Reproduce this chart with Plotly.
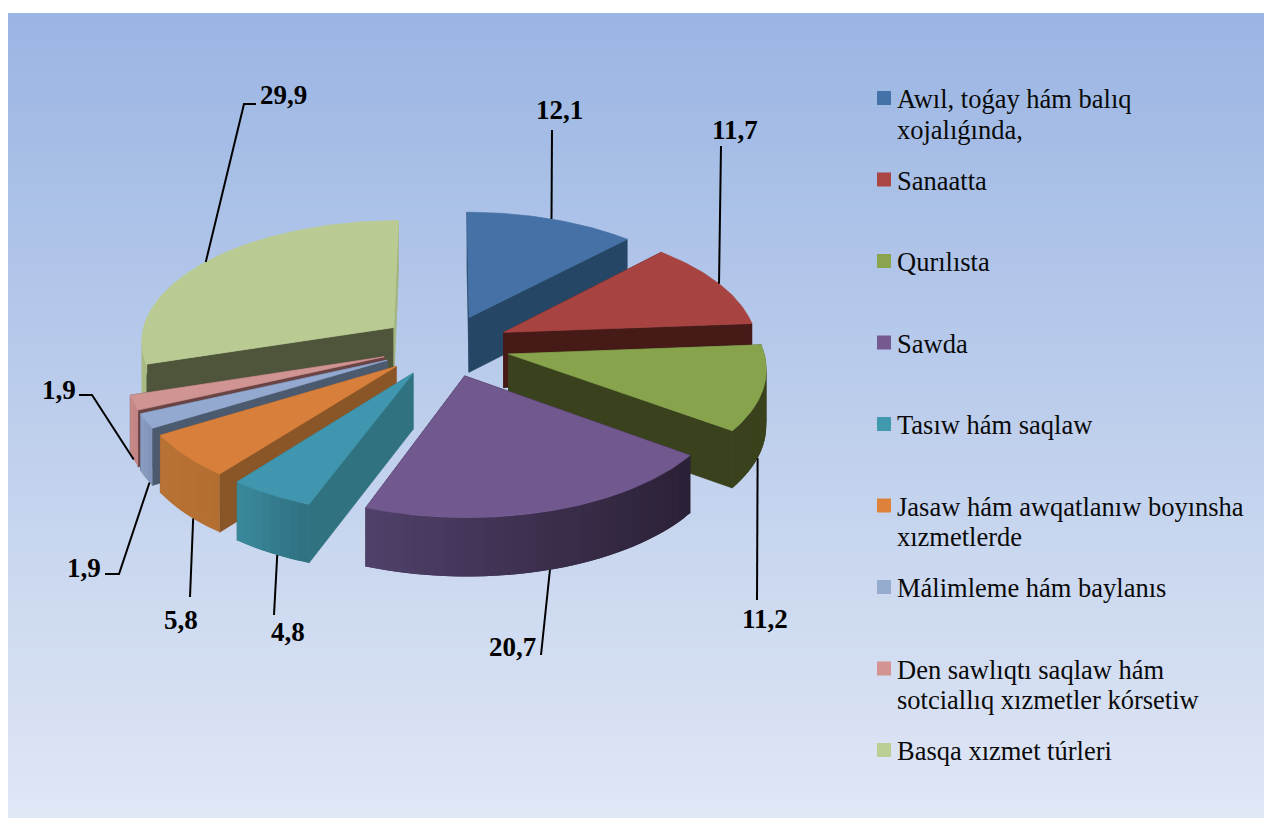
import math
import plotly.graph_objects as go

# ---- data ----
categories = [
    "Awıl, toǵay hám balıq\nxojalıǵında,",
    "Sanaatta",
    "Qurılısta",
    "Sawda",
    "Tasıw hám saqlaw",
    "Jasaw hám awqatlanıw boyınsha\nxızmetlerde",
    "Málimleme hám baylanıs",
    "Den sawlıqtı saqlaw hám\nsotciallıq xızmetler kórsetiw",
    "Basqa xızmet túrleri",
]
values = [12.1, 11.7, 11.2, 20.7, 4.8, 5.8, 1.9, 1.9, 29.9]
value_labels = ["12,1", "11,7", "11,2", "20,7", "4,8", "5,8", "1,9", "1,9", "29,9"]

# ---- styles ----
top_colors = ["#4571a6", "#a74442", "#87a44d", "#71588e", "#4096ae", "#d8803b", "#93a9cf", "#d09492", "#b9cb92"]
face_colors = ["#264666", "#451a17", "#39421c", "#2d2238", "#30727f", "#8a5628", "#4c5a70", "#6a4445", "#4f553a"]
end_face_colors = ["#264666", "#451a17", "#39421c", "#2d2238", "#30727f", "#8a5628", "#4c5a70", "#6a4445", "#a3b57f"]
wall_left = ["#264666", "#451a17", "#39421c", "#50406a", "#3a8a9c", "#b87235", "#8a9dc2", "#c98a88", "#a9bb84"]
wall_right = ["#264666", "#451a17", "#39421c", "#2b2136", "#2f6f80", "#b36e31", "#7f93b8", "#c08482", "#a9bb84"]
legend_colors = ["#4472a8", "#aa4644", "#8ba54f", "#75598f", "#4099ad", "#de823b", "#96accf", "#d29392", "#bbcf94"]

# ---- layout geometry (pixel-valued axes) ----
CX, CY = 445.5, 345.5
RX, RY = 254, 121
PERSP = 0.10
PULL = 0.256
DEPTH = 55.5
# per label: bent leader point(s), then label centre
leader_via = [[(552, 130)], [(721, 146)], [(757, 600)], [(541, 655)], [(274, 615)],
              [(190, 597)], [(119, 574), (105, 574)], [(92, 395), (79, 395)], [(244, 104), (256, 104)]]
label_pos = [(559, 110), (735, 130), (765, 619), (512, 647), (288, 632),
             (181, 620), (84, 568), (59, 390), (283, 95)]
leader_from_bottom = [False, False, True, True, True, True, True, True, False]
leader_shift_deg = [0, 0, 6, 0, -1.5, -2.5, -2, 0, 0]


def proj(X, Y, down=0.0):
    s = 1 / (1 + PERSP * Y)
    return CX + RX * X * s, CY - RY * Y * s + down * DEPTH * (1 - 0.05 * Y)


def hex2rgb(h):
    return tuple(int(h[i:i + 2], 16) for i in (1, 3, 5))


def mix(a, b, t):
    ca, cb = hex2rgb(a), hex2rgb(b)
    return "rgb(%d,%d,%d)" % tuple(round(ca[i] + (cb[i] - ca[i]) * t) for i in range(3))


fig = go.Figure()


def poly(pts, color, lw=0.7):
    fig.add_trace(go.Scatter(
        x=[p[0] for p in pts] + [pts[0][0]], y=[p[1] for p in pts] + [pts[0][1]],
        mode="lines", fill="toself", fillcolor=color,
        line=dict(color=color, width=lw), hoverinfo="skip", showlegend=False))


total = sum(values)
slices = []
cum = 0.0
for i, v in enumerate(values):
    a0 = cum / total * 2 * math.pi
    cum += v
    a1 = cum / total * 2 * math.pi
    m = (a0 + a1) / 2
    ax, ay = PULL * math.sin(m), PULL * math.cos(m)
    slices.append((i, a0, a1, m, ax, ay))

anchors = {}
for i, a0, a1, m, ax, ay in sorted(slices, key=lambda t: proj(t[4], t[5])[1]):
    pt = lambda a, d=0.0: proj(ax + math.sin(a), ay + math.cos(a), d)
    apex = proj(ax, ay)
    apex_b = proj(ax, ay, 1)
    # radial faces
    poly([apex, pt(a0), pt(a0, 1), apex_b], face_colors[i])
    poly([apex, pt(a1), pt(a1, 1), apex_b], end_face_colors[i])
    # outer wall (front-facing part only), shaded by screen position, each strip overlapping the next
    w0, w1 = max(a0, math.radians(85)), min(a1, math.radians(275))
    if w1 > w0:
        n = max(2, int(math.degrees(w1 - w0) / 2))
        angs = [w0 + (w1 - w0) * k / n for k in range(n + 1)]
        xs = [pt(a)[0] for a in angs]
        lo, hi = min(xs), max(xs)
        for k in range(n):
            t = ((xs[k] + xs[k + 1]) / 2 - lo) / (hi - lo)
            end = min(k + 2, n)
            arc_k = angs[k:end + 1]
            poly([pt(a) for a in arc_k] + [pt(a, 1) for a in reversed(arc_k)],
                 mix(wall_left[i], wall_right[i], t), lw=0)
    # top surface
    n2 = max(4, int(math.degrees(a1 - a0)))
    arc = [pt(a0 + (a1 - a0) * k / n2) for k in range(n2 + 1)]
    poly([apex] + arc, top_colors[i])
    anchors[i] = pt(m + math.radians(leader_shift_deg[i]), 1 if leader_from_bottom[i] else 0)

# leader lines
for i in range(len(values)):
    pts = [anchors[i]] + leader_via[i]
    fig.add_trace(go.Scatter(x=[p[0] for p in pts], y=[p[1] for p in pts], mode="lines",
                             line=dict(color="#000000", width=2), hoverinfo="skip", showlegend=False))

annotations = []
for (x, y), t in zip(label_pos, value_labels):
    annotations.append(dict(x=x, y=y, text="<b>%s</b>" % t, showarrow=False, xanchor="center", yanchor="middle",
                            font=dict(family="Liberation Serif", size=27, color="#000000")))

# legend
LEG_TOP, LEG_STEP, LINE_STEP = 98, 81.5, 30.5
fig.add_trace(go.Scatter(
    x=[884] * len(categories), y=[LEG_TOP + LEG_STEP * k for k in range(len(categories))],
    mode="markers", marker=dict(symbol="square", size=14, color=legend_colors, line=dict(width=0)),
    hoverinfo="skip", showlegend=False))
for k, c in enumerate(categories):
    for j, line in enumerate(c.split("\n")):
        annotations.append(dict(x=895, y=LEG_TOP + LEG_STEP * k + 1 + LINE_STEP * j, text=line, showarrow=False,
                                xanchor="left", yanchor="middle",
                                font=dict(family="Liberation Serif", size=26.5, color="#0a0a0a")))

# background gradient bands
shapes = []
BAND = 8
top_c, bot_c = "#9ab5e3", "#e0e7f5"
for y in range(13, 818, BAND):
    t = (y + BAND / 2 - 13) / 805
    shapes.append(dict(type="rect", layer="below", x0=8, x1=1264, y0=y, y1=min(y + BAND, 818),
                       fillcolor=mix(top_c, bot_c, t), line=dict(width=0)))

fig.update_layout(
    width=1264, height=818, margin=dict(l=0, r=0, t=0, b=0),
    paper_bgcolor="#ffffff", plot_bgcolor="#ffffff", showlegend=False,
    xaxis=dict(range=[0, 1264], visible=False, fixedrange=True),
    yaxis=dict(range=[818, 0], visible=False, fixedrange=True),
    shapes=shapes, annotations=annotations,
)
fig.write_html("out.html", config={"displayModeBar": False},
               default_width="1264px", default_height="818px",
               post_script="document.body.style.margin='0';")
